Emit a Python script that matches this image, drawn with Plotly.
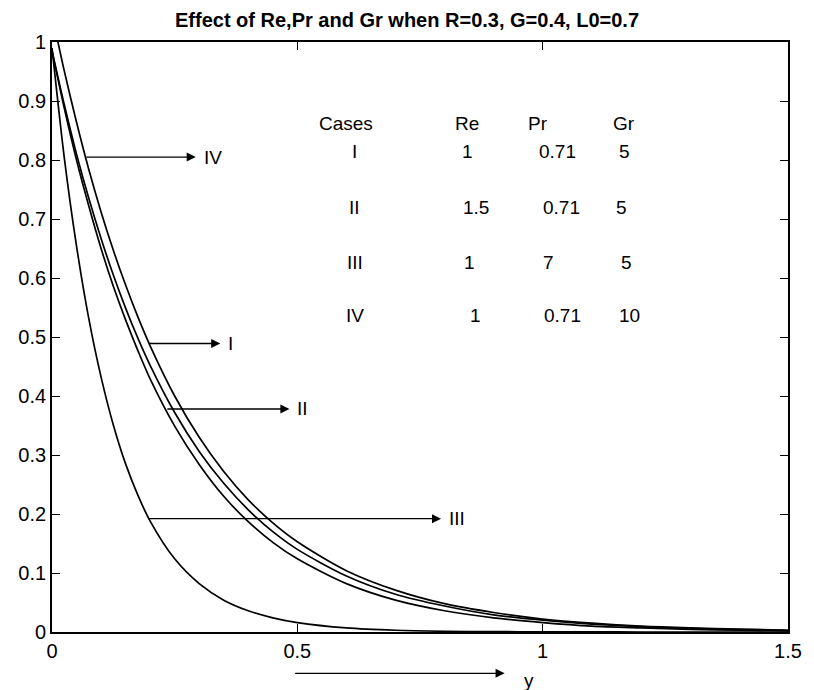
import plotly.graph_objects as go

# ---- data ----
y_pos = [0, 0.025, 0.05, 0.075, 0.1, 0.125, 0.15, 0.175, 0.2, 0.25, 0.3, 0.35, 0.4,
         0.45, 0.5, 0.6, 0.7, 0.8, 0.9, 1.0, 1.1, 1.2, 1.3, 1.4, 1.5]

case_I = [0.985, 0.894, 0.810, 0.735, 0.667, 0.605, 0.549, 0.498, 0.452, 0.372, 0.306, 0.252,
          0.207, 0.170, 0.140, 0.095, 0.064, 0.044, 0.029, 0.020, 0.0135, 0.009, 0.006, 0.0042, 0.0029]
case_II = [0.985, 0.888, 0.800, 0.722, 0.650, 0.586, 0.529, 0.477, 0.429, 0.349, 0.284, 0.230,
           0.187, 0.152, 0.124, 0.082, 0.054, 0.036, 0.024, 0.016, 0.010, 0.007, 0.0045, 0.003, 0.002]
case_III = [0.99, 0.804, 0.654, 0.531, 0.432, 0.351, 0.285, 0.232, 0.188, 0.124, 0.082, 0.054,
            0.036, 0.024, 0.016, 0.007, 0.003, 0.0013, 0.0006, 0.0003, 0.0001, 0, 0, 0, 0]
case_IV = [1.047, 0.951, 0.864, 0.784, 0.712, 0.647, 0.588, 0.534, 0.485, 0.400, 0.330, 0.272,
           0.224, 0.185, 0.153, 0.104, 0.071, 0.048, 0.033, 0.022, 0.015, 0.010, 0.007, 0.005, 0.003]

x_tickvals = [0, 0.5, 1, 1.5]
x_ticktext = ["0", "0.5", "1", "1.5"]
y_tickvals = [0, 0.1, 0.2, 0.3, 0.4, 0.5, 0.6, 0.7, 0.8, 0.9, 1.0]
y_ticktext = ["0", "0.1", "0.2", "0.3", "0.4", "0.5", "0.6", "0.7", "0.8", "0.9", "1"]

# arrow labels and the points they connect (data coordinates)
arrow_labels = ["IV", "I", "II", "III"]
arrow_tail_x = [0.067, 0.194, 0.232, 0.195]
arrow_head_x = [0.293, 0.343, 0.484, 0.793]
arrow_level = [0.805, 0.489, 0.378, 0.192]

# table of cases
table_header = ["Cases", "Re", "Pr", "Gr"]
table_cases = ["I", "II", "III", "IV"]
table_Re = ["1", "1.5", "1", "1"]
table_Pr = ["0.71", "0.71", "7", "0.71"]
table_Gr = ["5", "5", "5", "10"]

title_text = "Effect of Re,Pr and Gr when R=0.3, G=0.4, L0=0.7"
xlabel_text = "y"

FONT = "Liberation Sans, Arial, sans-serif"

# layout constants (placement of the table cells, in data coordinates)
header_x = [0.600, 0.846, 0.991, 1.166]
header_yv = 0.862
cell_x = [[0.616, 0.847, 1.031, 1.166],
          [0.616, 0.864, 1.039, 1.160],
          [0.618, 0.850, 1.011, 1.170],
          [0.618, 0.864, 1.041, 1.176]]
cell_y = [0.8136, 0.720, 0.627, 0.537]

fig = go.Figure()
for vals in [case_I, case_II, case_III, case_IV]:
    fig.add_trace(go.Scatter(x=y_pos, y=vals, mode="lines",
                             line=dict(color="black", width=1.7, shape="spline", smoothing=0.8),
                             showlegend=False, hoverinfo="skip"))

annotations = []
for lab, tx, hx, lv in zip(arrow_labels, arrow_tail_x, arrow_head_x, arrow_level):
    annotations.append(dict(x=hx, y=lv, ax=tx, ay=lv, xref="x", yref="y", axref="x", ayref="y",
                            showarrow=True, arrowhead=2, arrowsize=1.4, arrowwidth=1.3,
                            arrowcolor="black", text=""))
    annotations.append(dict(x=hx + 0.012, y=lv, xref="x", yref="y", text=lab, showarrow=False,
                            xanchor="left", yanchor="middle",
                            font=dict(family=FONT, size=19, color="black")))

for cx, h in zip(header_x, table_header):
    annotations.append(dict(x=cx, y=header_yv, xref="x", yref="y", text=h, showarrow=False,
                            xanchor="center", yanchor="middle",
                            font=dict(family=FONT, size=19, color="black")))
for i in range(4):
    vals = [table_cases[i], table_Re[i], table_Pr[i], table_Gr[i]]
    for j in range(4):
        annotations.append(dict(x=cell_x[i][j], y=cell_y[i], xref="x", yref="y", text=vals[j],
                                showarrow=False, xanchor="center", yanchor="middle",
                                font=dict(family=FONT, size=19, color="black")))

# x-axis label with arrow (paper coordinates, below the axes)
annotations.append(dict(x=0.615, y=-0.07, ax=-211, ay=0, xref="paper", yref="paper",
                        axref="pixel", ayref="pixel",
                        showarrow=True, arrowhead=2, arrowsize=1.4, arrowwidth=1.3,
                        arrowcolor="black", text=""))
annotations.append(dict(x=0.648, y=-0.082, xref="paper", yref="paper", text=xlabel_text,
                        showarrow=False, xanchor="center", yanchor="middle",
                        font=dict(family=FONT, size=19, color="black")))

fig.update_layout(
    width=814, height=690,
    margin=dict(l=52, r=19, t=42, b=58),
    paper_bgcolor="white", plot_bgcolor="white",
    title=dict(text="<b>" + title_text + "</b>", x=0.5, xanchor="center",
               y=1 - 20 / 690, yanchor="middle", yref="container",
               font=dict(family=FONT, size=20, color="black")),
    annotations=annotations,
    xaxis=dict(range=[0, 1.5], tickvals=x_tickvals, ticktext=x_ticktext,
               showline=True, linecolor="black", linewidth=1.8, mirror="ticks",
               ticks="inside", ticklen=8, tickwidth=1.2, tickcolor="black",
               showgrid=False, zeroline=False,
               tickfont=dict(family=FONT, size=20, color="black")),
    yaxis=dict(range=[0, 1], tickvals=y_tickvals, ticktext=y_ticktext,
               showline=True, linecolor="black", linewidth=1.8, mirror="ticks",
               ticks="inside", ticklen=8, tickwidth=1.2, tickcolor="black",
               showgrid=False, zeroline=False,
               tickfont=dict(family=FONT, size=20, color="black")),
)

fig.write_html("out.html")
